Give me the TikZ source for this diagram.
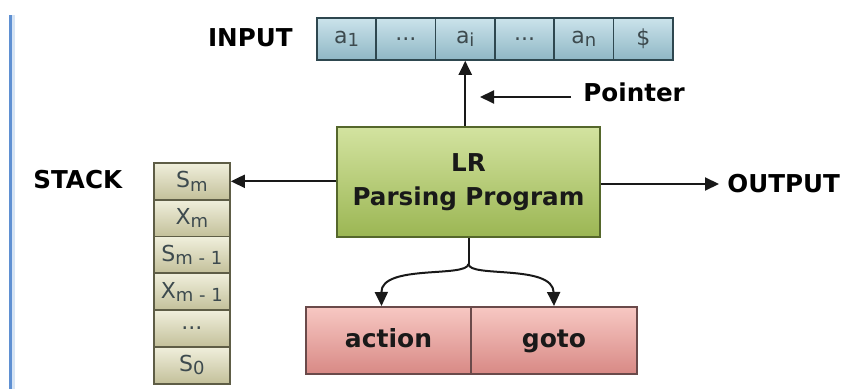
\documentclass[tikz,border=0pt]{standalone}
\usepackage{fontspec}
\setmainfont{DejaVu Sans}
\usetikzlibrary{arrows.meta,calc}

\definecolor{tapetop}{HTML}{CBE3EB}
\definecolor{tapebot}{HTML}{8FB7C5}
\definecolor{tapeline}{HTML}{2E474F}
\definecolor{progtop}{HTML}{D3E3A0}
\definecolor{progbot}{HTML}{9BB653}
\definecolor{progline}{HTML}{55672B}
\definecolor{stacktop}{HTML}{F0EFDC}
\definecolor{stackbot}{HTML}{C3C09A}
\definecolor{stackline}{HTML}{5E5D46}
\definecolor{tabtop}{HTML}{F7C8C3}
\definecolor{tabbot}{HTML}{D88985}
\definecolor{tabline}{HTML}{6A4A4A}
\definecolor{celltext}{HTML}{3D4A4E}
\definecolor{bardark}{HTML}{5F90D2}
\definecolor{barlight}{HTML}{D6E4F4}

\newcommand\lowsub[1]{\raisebox{-1.6pt}{\fontsize{9}{9}\selectfont #1}}

\begin{document}
\begin{tikzpicture}[x=0.5pt,y=-0.5pt,
  label/.style={font=\fontsize{12.3}{14}\selectfont\bfseries, text=black, inner sep=0pt},
  tapecell/.style={draw=tapeline, line width=0.9pt, top color=tapetop, bottom color=tapebot,
    minimum width=29.67pt, minimum height=21pt, inner sep=0pt, anchor=north west,
    font=\fontsize{11}{12}\selectfont, text=celltext},
  stackcell/.style={draw=stackline, line width=0.9pt, top color=stacktop, bottom color=stackbot,
    minimum width=38pt, minimum height=18.4pt, inner sep=0pt, anchor=north west,
    font=\fontsize{11}{12}\selectfont, text=celltext},
  tablecell/.style={draw=tabline, line width=1pt, top color=tabtop, bottom color=tabbot,
    minimum height=33.5pt, inner sep=0pt, anchor=north west, text height=9pt, text depth=2.5pt,
    font=\fontsize{12.5}{14}\selectfont\bfseries, text=black!90},
  flow/.style={line width=1pt, black!90, -{Triangle[length=7pt,width=6.5pt]}}
]
\useasboundingbox (0,0) rectangle (849,389);

% window edge on the left
\fill[bardark] (9,15) rectangle (12,389);
\fill[barlight] (12,15) rectangle (15,389);

% input tape
\node[tapecell] (c1) at (316,17) {a\lowsub{1}};
\node[tapecell] (c2) at (375.33,17) {...};
\node[tapecell] (c3) at (434.67,17) {a\lowsub{i}};
\node[tapecell] (c4) at (494,17) {...};
\node[tapecell] (c5) at (553.33,17) {a\lowsub{n}};
\node[tapecell] (c6) at (612.67,17) {\$};
\node[label, anchor=east] (input) at (293,38) {INPUT};

% parsing program
\node[draw=progline, line width=1pt, top color=progtop, bottom color=progbot,
  minimum width=131.5pt, minimum height=55pt, inner sep=0pt, align=center,
  font=\fontsize{12.3}{17}\selectfont\bfseries, text=black!90] (prog) at (468.5,182)
  {LR\\Parsing Program};

% pointer to the current input symbol
\draw[flow] (prog.north -| c3.south) -- (c3.south);
\node[label, anchor=west] (ptr) at (583,92) {Pointer};
\coordinate (ptrtip) at (480,97);
\draw[flow] (ptr.west |- ptrtip) ++(-12,0) coordinate (ptrtail) -- (ptrtip);

% stack
\node[stackcell] (s1) at (153,162) {S\lowsub{m}};
\node[stackcell] (s2) at (153,198.8) {X\lowsub{m}};
\node[stackcell] (s3) at (153,235.6) {S\lowsub{m - 1}};
\node[stackcell] (s4) at (153,272.4) {X\lowsub{m - 1}};
\node[stackcell] (s5) at (153,309.2) {...};
\node[stackcell] (s6) at (153,346) {S\lowsub{0}};
\node[label, anchor=west] (stack) at (33,180) {STACK};
\draw[flow] (prog.west |- s1.east) -- (s1.east);

% output
\node[label, anchor=west] (output) at (727,184) {OUTPUT};
\draw[flow] (prog.east |- output.west) -- ([xshift=-4pt]output.west);

% parsing table
\node[tablecell, minimum width=82.5pt] (action) at (305,306) {action};
\node[tablecell, minimum width=83pt] (goto) at (470,306) {goto};

\coordinate (fork) at (prog.south |- 0,264);
\draw[line width=1pt, black!90] (prog.south) -- (fork);
\draw[flow] (fork) .. controls (467,278) and (381,264) .. ([xshift=-3.5pt]action.north);
\draw[flow] (fork) .. controls (469,278) and (553,264) .. (goto.north);
\end{tikzpicture}
\end{document}
